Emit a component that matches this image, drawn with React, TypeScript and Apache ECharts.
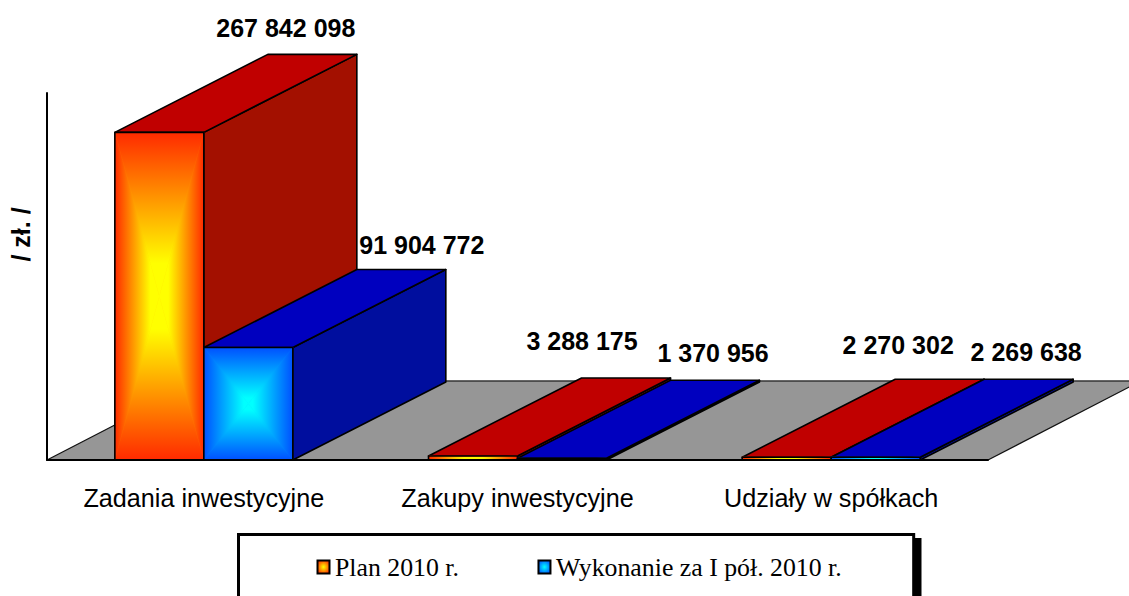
import React, { useEffect, useRef } from "react";
import * as echarts from "echarts";

const categories = ["Zadania inwestycyjne", "Zakupy inwestycyjne", "Udziały w spółkach"];
const planValues = [267842098, 3288175, 2270302];
const actualValues = [91904772, 1370956, 2269638];
const seriesNames = ["Plan 2010 r.", "Wykonanie za I pół. 2010 r."];

// hand-placed label shifts relative to the bar's back-top centre
const planLabelShift = [[-26.5, -26], [-44, -37], [-41.5, -34]];
const actualLabelShift = [[20.5, -25], [-2, -27], [-2.5, -27]];

const DEPTH_X = 153;
const DEPTH_Y = 78;
const BAR_RATIO = 0.2837;

const fmt = (v: number) => String(v).replace(/\B(?=(\d{3})+$)/g, " ");

const planPalette = { edge: "#ff2a00", core: "#ffff00", mid: "#ffa000", top: "#c00000", side: "#a31000", stop: 0.8 };
const actualPalette = { edge: "#0050ff", core: "#00ffff", mid: "#00a0ff", top: "#0000bf", side: "#000e9e", stop: 0.9 };

function barRenderer(side: number, pal: typeof planPalette, shift: number[][]) {
  return (params: any, api: any) => {
    const idx = api.value(0);
    const val = api.value(1);
    const center = api.coord([idx, 0]);
    const topPt = api.coord([idx, val]);
    const w = api.size([1, 0])[0] * BAR_RATIO;
    const x1 = side < 0 ? center[0] - w : center[0];
    const x2 = x1 + w;
    const yB = center[1];
    const yT = topPt[1];
    const cx = (x1 + x2) / 2;
    const cy = (yT + yB) / 2;
    const lin = (ax: number, ay: number, bx: number, by: number) => ({
      type: "linear",
      global: true,
      x: ax,
      y: ay,
      x2: bx,
      y2: by,
      colorStops: [
        { offset: 0, color: pal.edge },
        { offset: pal.stop, color: pal.core },
        { offset: 1, color: pal.core },
      ],
    });
    const stroke = { stroke: "#000", lineWidth: 1.6, lineJoin: "round" };
    const face = (pts: number[][], fill: any) => ({
      type: "polygon",
      shape: { points: pts },
      style: { fill, stroke: fill, lineWidth: 0.6 },
    });
    return {
      type: "group",
      children: [
        {
          type: "polygon",
          shape: { points: [[x2, yT], [x2 + DEPTH_X, yT - DEPTH_Y], [x2 + DEPTH_X, yB - DEPTH_Y], [x2, yB]] },
          style: { fill: pal.side, ...stroke },
        },
        {
          type: "polygon",
          shape: { points: [[x1, yT], [x1 + DEPTH_X, yT - DEPTH_Y], [x2 + DEPTH_X, yT - DEPTH_Y], [x2, yT]] },
          style: { fill: pal.top, ...stroke },
        },
        { type: "rect", shape: { x: x1, y: yT, width: w, height: yB - yT }, style: { fill: pal.mid } },
        face([[x1, yT], [x2, yT], [cx, cy]], lin(cx, yT, cx, cy)),
        face([[x1, yB], [x2, yB], [cx, cy]], lin(cx, yB, cx, cy)),
        face([[x1, yT], [x1, yB], [cx, cy]], lin(x1, cy, cx, cy)),
        face([[x2, yT], [x2, yB], [cx, cy]], lin(x2, cy, cx, cy)),
        {
          type: "rect",
          shape: { x: x1, y: yT, width: w, height: yB - yT },
          style: { fill: "none", ...stroke },
        },
        {
          type: "text",
          style: {
            x: cx + DEPTH_X + shift[idx][0],
            y: yT - DEPTH_Y + shift[idx][1],
            text: fmt(val),
            align: "center",
            verticalAlign: "middle",
            fontFamily: "Liberation Sans",
            fontWeight: "bold",
            fontSize: 25,
            fill: "#000",
          },
        },
      ],
    };
  };
}

function floorRenderer(params: any) {
  const g = params.coordSys;
  const yB = g.y + g.height;
  const xL = g.x;
  const xR = g.x + g.width;
  return {
    type: "group",
    children: [
      {
        type: "polygon",
        shape: { points: [[xL, yB], [xL + DEPTH_X, yB - DEPTH_Y - 1], [xR + DEPTH_X, yB - DEPTH_Y - 1], [xR, yB]] },
        style: { fill: "#969696", stroke: "none" },
      },
      { type: "line", shape: { x1: xL, y1: yB, x2: xL + DEPTH_X, y2: yB - DEPTH_Y - 1 }, style: { stroke: "#111", lineWidth: 1.2 } },
      { type: "line", shape: { x1: xL + DEPTH_X, y1: yB - DEPTH_Y - 1, x2: xR + DEPTH_X, y2: yB - DEPTH_Y - 1 }, style: { stroke: "#333", lineWidth: 1.4 } },
      { type: "line", shape: { x1: xR, y1: yB, x2: xR + DEPTH_X, y2: yB - DEPTH_Y - 1 }, style: { stroke: "#111", lineWidth: 1.2 } },
    ],
  };
}

const legendGradient = (edge: string, core: string) => ({
  type: "radial",
  x: 0.5,
  y: 0.5,
  r: 0.6,
  colorStops: [
    { offset: 0, color: core },
    { offset: 1, color: edge },
  ],
});

export default function App() {
  const ref = useRef<HTMLDivElement>(null);
  useEffect(() => {
    const chart = echarts.init(ref.current!, undefined, { renderer: "svg" });
    chart.setOption({
      animation: false,
      backgroundColor: "#fff",
      grid: { left: 47, width: 941, top: 93, bottom: 136, containLabel: false, outerBoundsMode: "none" },
      xAxis: {
        type: "category",
        data: categories,
        axisTick: { show: false },
        axisLine: { lineStyle: { color: "#000", width: 2 }, onZero: false },
        axisLabel: { color: "#000", fontFamily: "Liberation Sans", fontSize: 25.2, margin: 25, interval: 0 },
        z: 10,
      },
      yAxis: {
        type: "value",
        min: 0,
        max: 300000000,
        splitLine: { show: false },
        axisTick: { show: false },
        axisLabel: { show: false },
        axisLine: { show: true, lineStyle: { color: "#000", width: 2 } },
        name: "/ zł. /",
        nameLocation: "middle",
        nameGap: 14,
        nameRotate: 90,
        nameTextStyle: {
          color: "#000",
          fontFamily: "Liberation Sans",
          fontWeight: "bold",
          fontSize: 25,
          padding: [0, 0, 0, 84],
        },
      },
      legend: {
        left: 238.5,
        top: 534.5,
        orient: "horizontal",
        data: seriesNames,
        icon: "rect",
        padding: [19.5, 72, 60, 78],
        itemGap: 78.5,
        itemWidth: 12,
        itemHeight: 13,
        borderColor: "#000",
        borderWidth: 3,
        backgroundColor: "#fff",
        textStyle: { color: "#000", fontFamily: "Liberation Serif", fontSize: 25.8, padding: [0, 0, 0, 0.5] },
      },
      graphic: [
        { type: "rect", z: -1, silent: true, shape: { x: 914, y: 538, width: 7.5, height: 58 }, style: { fill: "#000" } },
      ],
      series: [
        {
          type: "custom",
          name: "floor",
          silent: true,
          clip: false,
          z: 1,
          data: [[0]],
          renderItem: floorRenderer,
        },
        {
          type: "custom",
          name: seriesNames[0],
          clip: false,
          z: 2,
          data: planValues.map((v, i) => [i, v]),
          itemStyle: { color: legendGradient(planPalette.edge, planPalette.core), borderColor: "#000", borderWidth: 3 },
          renderItem: barRenderer(-1, planPalette, planLabelShift),
        },
        {
          type: "custom",
          name: seriesNames[1],
          clip: false,
          z: 3,
          data: actualValues.map((v, i) => [i, v]),
          itemStyle: { color: legendGradient(actualPalette.edge, actualPalette.core), borderColor: "#000", borderWidth: 3 },
          renderItem: barRenderer(1, actualPalette, actualLabelShift),
        },
      ],
    });
    return () => chart.dispose();
  }, []);
  return <div ref={ref} style={{ position: "fixed", left: 0, top: 0, width: 1129, height: 596 }} />;
}
